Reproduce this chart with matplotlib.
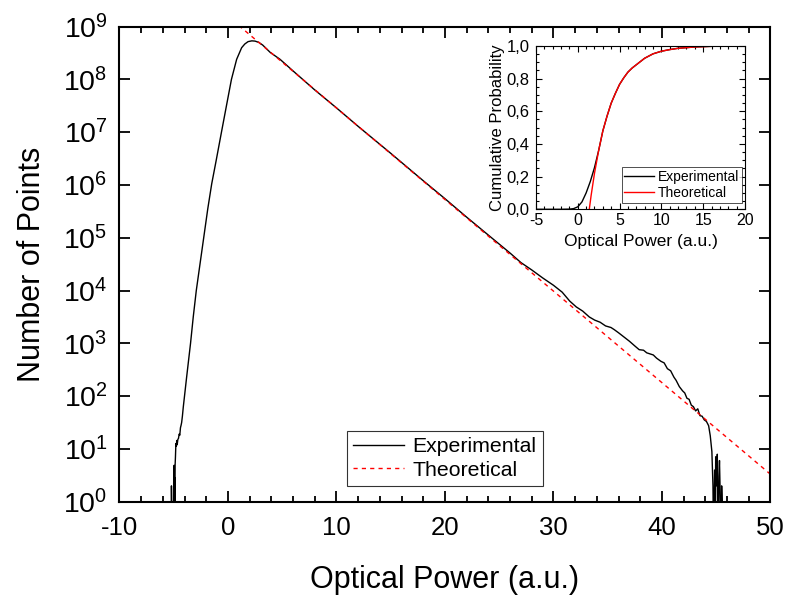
import numpy as np
from matplotlib import pyplot as plt
from matplotlib.ticker import MultipleLocator, LogLocator, NullLocator

plt.rcParams['font.family'] = ['Liberation Sans', 'DejaVu Sans']
plt.rcParams['mathtext.fontset'] = 'custom'
plt.rcParams['mathtext.rm'] = 'Liberation Sans'
plt.rcParams['axes.unicode_minus'] = False

# MAIN HISTOGRAM - EXPERIMENTAL (log10 of counts, -1 means zero count)
exp_x = [-5.24, -5.21, -5.19, -5.17, -5.02, -5.00, -4.98, -4.96, -4.94, -4.91, -4.89, -4.87, -4.84,
         -4.80, -4.76, -4.72, -4.68, -4.62, -4.56, -4.50, -4.44, -4.38, -4.32, -4.27, -4.20, -4.12,
         -3.81, -3.45, -3.20, -2.92, -2.62, -2.25, -1.86, -1.50, -1.10, -0.60, -0.15, 0.32, 0.80,
         1.26, 1.55, 1.85, 2.20, 2.50, 2.85, 3.20, 3.90, 4.80, 6.0, 8.0, 10.0, 12.0, 15.0, 18.0,
         20.0, 22.0,
         24.0, 25.0, 26.0, 27.0, 28.0, 29.0, 30.0, 30.8, 31.5, 32.1, 32.7, 33.3, 33.8, 34.3, 34.8,
         35.3, 35.6, 36.0, 36.5, 37.0, 37.5, 37.9, 38.3, 38.6, 38.9, 39.2, 39.5, 39.9, 40.2, 40.5,
         40.8, 41.1, 41.3, 41.6, 41.9, 42.1, 42.3, 42.5, 42.7, 42.9, 43.1, 43.3, 43.5, 43.7, 43.9,
         44.1, 44.3, 44.45, 44.6, 44.7, 44.76, 44.85, 44.9, 44.95, 45.05, 45.1, 45.15, 45.25,
         45.3, 45.35, 45.42, 45.5, 45.55, 45.6]
exp_log = [-1, 0.30, 0.0, -1, -1, 0.60, 0.0, 0.69, 0.0, 0.46, 0.0, 0.70, 0.85,
           1.10, 1.05, 1.16, 1.08, 1.18, 1.20, 1.28, 1.26, 1.40, 1.45, 1.50, 1.62, 1.79,
           2.36, 3.00, 3.50, 4.00, 4.44, 4.98, 5.55, 6.02, 6.45, 7.00, 7.49, 8.00, 8.38,
           8.60, 8.67, 8.715, 8.73, 8.725, 8.70, 8.65, 8.51, 8.38, 8.16, 7.80, 7.46, 7.11, 6.60, 6.08,
           5.74, 5.39,
           5.05, 4.88, 4.71, 4.53, 4.39, 4.24, 4.10, 3.97, 3.80, 3.69, 3.61, 3.50, 3.44, 3.40, 3.33,
           3.30, 3.26, 3.20, 3.12, 3.04, 2.95, 2.88, 2.87, 2.82, 2.80, 2.78, 2.72, 2.66, 2.63, 2.52,
           2.48, 2.36, 2.30, 2.18, 2.10, 2.06, 1.96, 1.94, 1.83, 1.80, 1.72, 1.76, 1.63, 1.62, 1.55,
           1.52, 1.44, 1.25, 0.95, 0.30, -1, 0.60, -1, 0.85, 0.30, 0.90, -1, 0.48,
           0.78, 0.30, -1, 0.30, 0.0, -1]

# MAIN HISTOGRAM - THEORETICAL EXPONENTIAL
theo_x = [1.0, 50.0]
theo_log = [9.02, 0.52]

# INSET - CUMULATIVE PROBABILITY
cdf_exp_x = [-5, -2, -1, -0.5, 0, 0.5, 1.0, 1.5, 2.0, 2.5, 3.0, 3.5, 4, 4.5, 5, 5.5, 6, 6.5, 7,
             7.5, 8, 9, 10, 11, 12, 14, 16, 20]
cdf_exp_y = [0, 0, 0.001, 0.004, 0.015, 0.045, 0.10, 0.17, 0.255, 0.36, 0.48, 0.57, 0.65, 0.71,
             0.765, 0.805, 0.84, 0.865, 0.885, 0.905, 0.925, 0.952, 0.968, 0.978, 0.986, 0.994,
             0.998, 1.0]
cdf_theo_x = [1.38, 1.6, 2.0, 2.5, 3.0, 3.5, 4, 4.5, 5, 5.5, 6, 6.5, 7, 7.5, 8, 9, 10, 11, 12,
              14, 16, 20]
cdf_theo_y = [0, 0.085, 0.22, 0.36, 0.48, 0.57, 0.65, 0.71, 0.765, 0.805, 0.84, 0.865, 0.885,
              0.905, 0.925, 0.952, 0.968, 0.978, 0.986, 0.994, 0.998, 1.0]

fig = plt.figure(figsize=(7.87, 5.99), dpi=100)
ax = fig.add_axes([0.1518, 0.1624, 0.8272, 0.7932])

ax.plot(exp_x, 10.0 ** np.array(exp_log), color='black', lw=1.0, label='Experimental')
ax.plot(theo_x, 10.0 ** np.array(theo_log), color='red', lw=1.0, linestyle=(0, (3, 3)),
        label='Theoretical')

ax.set_yscale('log')
ax.set_xlim(-10, 50)
ax.set_ylim(1, 1e9)
ax.xaxis.set_major_locator(MultipleLocator(10))
ax.xaxis.set_minor_locator(MultipleLocator(2))
ax.yaxis.set_major_locator(LogLocator(base=10, numticks=20))
ax.yaxis.set_minor_locator(NullLocator())
ax.tick_params(which='both', direction='in', top=True, right=True, width=1.3)
ax.tick_params(axis='x', labelsize=18.5, pad=10)
ax.tick_params(axis='y', labelsize=20.5, pad=8.5)
ax.tick_params(which='major', length=8)
ax.tick_params(which='minor', length=4.5)
for s in ax.spines.values():
    s.set_linewidth(1.5)
ax.set_xlabel('Optical Power (a.u.)', fontsize=22, labelpad=18)
ax.set_ylabel('Number of Points', fontsize=22, labelpad=12)

leg = ax.legend(loc='lower center', bbox_to_anchor=(0.5, 0.033), fontsize=15.3, frameon=True,
                fancybox=False, edgecolor='black', handlelength=2.4, borderpad=0.3,
                labelspacing=0.2, handletextpad=0.4, borderaxespad=0)
leg.get_frame().set_linewidth(0.8)

# INSET
ins = fig.add_axes([0.681, 0.6506, 0.2656, 0.2726])
ins.plot(cdf_exp_x, cdf_exp_y, color='black', lw=1.0, label='Experimental')
ins.plot(cdf_theo_x, cdf_theo_y, color='red', lw=1.0, label='Theoretical')
ins.set_xlim(-5, 20)
ins.set_ylim(0, 1)
ins.xaxis.set_major_locator(MultipleLocator(5))
ins.xaxis.set_minor_locator(MultipleLocator(1))
ins.yaxis.set_major_locator(MultipleLocator(0.2))
ins.yaxis.set_minor_locator(MultipleLocator(0.05))
ins.set_yticklabels([('%.1f' % v).replace('.', ',') for v in ins.get_yticks()])
ins.set_ylim(0, 1)
ins.tick_params(which='both', direction='in', top=True, right=True, width=0.8)
ins.tick_params(axis='x', labelsize=11.5, pad=3)
ins.tick_params(axis='y', labelsize=12, pad=4.5)
ins.tick_params(which='major', length=4)
ins.tick_params(which='minor', length=2)
ins.set_xlabel('Optical Power (a.u.)', fontsize=12.5, labelpad=4)
ins.set_ylabel('Cumulative Probability', fontsize=12, labelpad=1)
ileg = ins.legend(loc='lower right', bbox_to_anchor=(0.985, 0.04), fontsize=10, frameon=True,
                  fancybox=False, edgecolor='black', handlelength=2.1, borderpad=0.2,
                  labelspacing=0.15, handletextpad=0.3, borderaxespad=0)
ileg.get_frame().set_linewidth(0.6)

plt.savefig('out.png', dpi=100)
plt.close()
